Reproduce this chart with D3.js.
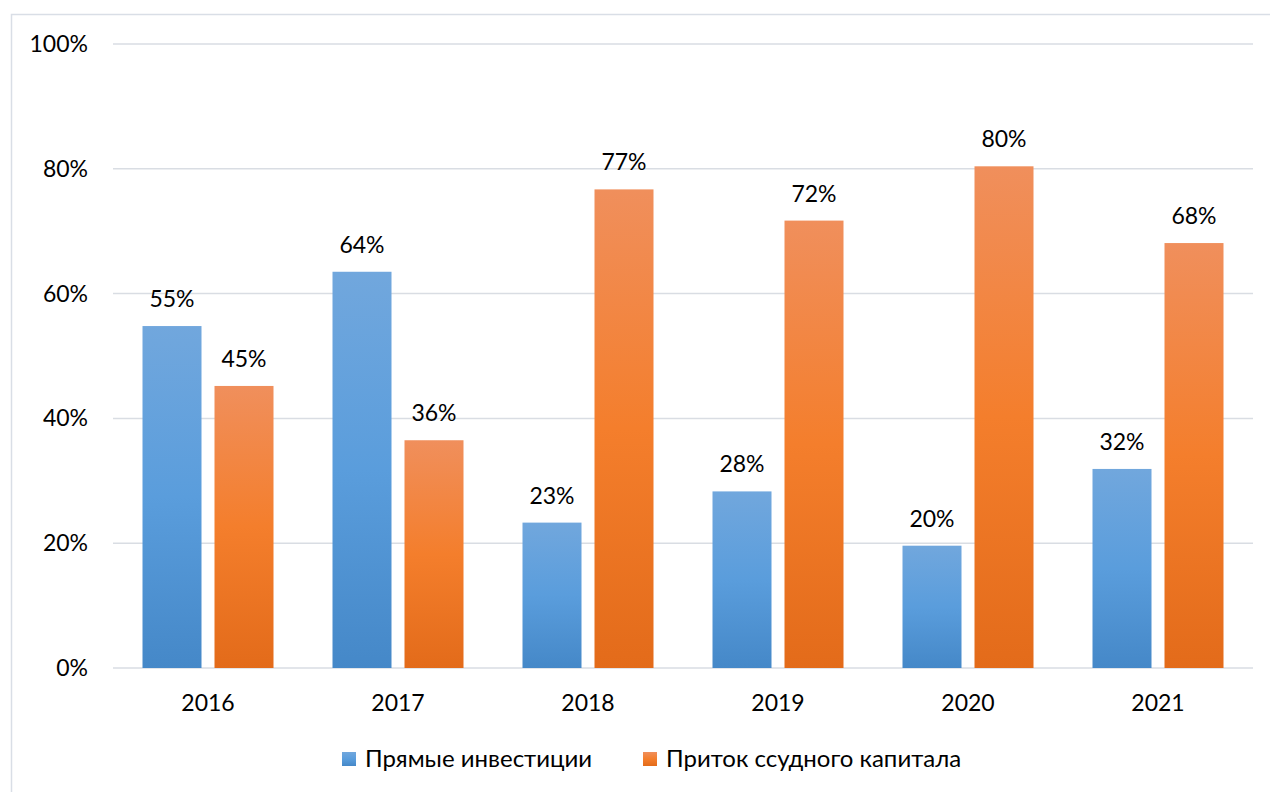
<!DOCTYPE html>
<html><head><meta charset="utf-8">
<script src="https://cdn.jsdelivr.net/npm/d3@7"></script>
<style>body{margin:0;background:#fff}text{font-family:Lato,"Noto Sans",sans-serif;fill:#000}</style>
</head><body><svg id="c" width="1270" height="792"></svg>
<script>
const years = ["2016","2017","2018","2019","2020","2021"];
const direct = [54.8, 63.5, 23.3, 28.3, 19.6, 31.9];
const loans = [45.2, 36.5, 76.7, 71.7, 80.4, 68.1];
const labelsDirect = ["55%","64%","23%","28%","20%","32%"];
const labelsLoans = ["45%","36%","77%","72%","80%","68%"];
const seriesNames = ["Прямые инвестиции","Приток ссудного капитала"];
const yTicks = [0,20,40,60,80,100];

const svg = d3.select("#c");
const defs = svg.append("defs");
function grad(id, stops){
  const g = defs.append("linearGradient").attr("id",id).attr("x1",0).attr("y1",0).attr("x2",0).attr("y2",1);
  stops.forEach(s=>g.append("stop").attr("offset",s[0]).attr("stop-color",s[1]));
}
grad("gb",[[0,"#71a7dd"],[0.5,"#5a9ddc"],[1,"#4588c8"]]);
grad("go",[[0,"#f08f5c"],[0.5,"#f47e2c"],[1,"#e36b1a"]]);

svg.append("rect").attr("x",11.5).attr("y",14.5).attr("width",1270).attr("height",790)
  .attr("fill","none").attr("stroke","#d9dee6").attr("stroke-width",1.5);

const x = d3.scaleBand().domain(years).range([113,1253]);
const y = d3.scaleLinear().domain([0,100]).range([668,44]);
const FS = 23;

const grid = svg.append("g");
yTicks.forEach(t=>{
  grid.append("line").attr("x1",113).attr("x2",1253).attr("y1",y(t)).attr("y2",y(t))
    .attr("stroke","#d9dde3").attr("stroke-width",1.5);
  svg.append("text").attr("x",88).attr("y",y(t)).attr("dy","0.35em").attr("text-anchor","end")
    .attr("font-size",FS).text(t+"%");
});

const bw = 59, gap = 13;
const series = [[direct,"url(#gb)",labelsDirect,-1],[loans,"url(#go)",labelsLoans,1]];
series.forEach(([vals,fill,labs,side])=>{
  const g = svg.append("g");
  years.forEach((yr,i)=>{
    const cx = x(yr)+x.bandwidth()/2;
    const bx = side<0 ? cx-gap/2-bw : cx+gap/2;
    g.append("rect").attr("x",bx).attr("y",y(vals[i])).attr("width",bw).attr("height",y(0)-y(vals[i])).attr("fill",fill);
    g.append("text").attr("x",bx+bw/2).attr("y",y(vals[i])-19).attr("text-anchor","middle")
      .attr("font-size",FS).text(labs[i]);
  });
});

years.forEach(yr=>{
  svg.append("text").attr("x",x(yr)+x.bandwidth()/2).attr("y",703).attr("dy","0.35em")
    .attr("text-anchor","middle").attr("font-size",FS).text(yr);
});

const leg = [[seriesNames[0],"url(#gb)",342],[seriesNames[1],"url(#go)",643]];
leg.forEach(([n,f,lx])=>{
  svg.append("rect").attr("x",lx).attr("y",752).attr("width",14).attr("height",14).attr("fill",f);
  svg.append("text").attr("x",lx+23).attr("y",759).attr("dy","0.35em").attr("font-size",24).text(n);
});
</script></body></html>
